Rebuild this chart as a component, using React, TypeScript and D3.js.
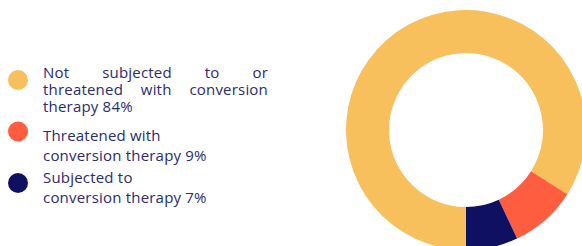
import React, { useEffect, useRef } from 'react';
import * as d3 from 'd3';

const labels = [
  'Not subjected to or threatened with conversion therapy 84%',
  'Threatened with conversion therapy 9%',
  'Subjected to conversion therapy 7%',
];
const values = [84, 9, 7];
const colors = ['#F7C05C', '#FF5D3F', '#101063'];
// legend text split in lines, first entry is justified
const legendLines = [
  ['Not subjected to or', 'threatened with conversion', 'therapy 84%'],
  ['Threatened with', 'conversion therapy 9%'],
  ['Subjected to', 'conversion therapy 7%'],
];

function App() {
  const svgRef = useRef<SVGSVGElement>(null);

  useEffect(() => {
    document.body.style.margin = '0';
    const svg = d3.select(svgRef.current);
    svg.selectAll('*').remove();

    const cx = 466;
    const cy = 130;
    const outerR = 120;
    const innerR = 77;

    const pie = d3.pie<number>()
      .sort(null)
      .startAngle(Math.PI)
      .endAngle(3 * Math.PI);
    const arc = d3.arc<d3.PieArcDatum<number>>()
      .innerRadius(innerR)
      .outerRadius(outerR);

    svg.append('g')
      .attr('transform', `translate(${cx},${cy})`)
      .selectAll('path')
      .data(pie(values))
      .join('path')
      .attr('d', arc)
      .attr('fill', (d, i) => colors[i]);

    // legend
    const textX = 43;
    const textRight = 268;
    const dotY = d3.scalePoint<number>().domain([0, 1, 2]).range([80, 183]);
    const firstBaseline = [78, 141, 183];
    const lineGap = [17, 20, 20];

    const legend = svg.append('g')
      .attr('font-family', '"Open Sans", sans-serif')
      .attr('font-size', 15)
      .attr('letter-spacing', 0.2)
      .attr('fill', '#2B2B6E');

    labels.forEach((label, i) => {
      legend.append('circle')
        .attr('cx', 18)
        .attr('cy', dotY(i)!)
        .attr('r', 10)
        .attr('fill', colors[i]);

      legendLines[i].forEach((line, j) => {
        const y = firstBaseline[i] + j * lineGap[i];
        const justify = i === 0 && j < legendLines[i].length - 1;
        if (!justify) {
          legend.append('text').attr('x', textX).attr('y', y).text(line);
          return;
        }
        const words = line.split(' ');
        const nodes = words.map((w) =>
          legend.append('text').attr('y', y).text(w));
        const widths = nodes.map((n) => (n.node() as SVGTextElement).getComputedTextLength());
        const total = d3.sum(widths);
        const gap = (textRight - textX - total) / (words.length - 1);
        let x = textX;
        nodes.forEach((n, k) => {
          n.attr('x', x);
          x += widths[k] + gap;
        });
      });
    });
  }, []);

  return <svg ref={svgRef} width={582} height={246} style={{ display: 'block' }} />;
}

export default App;
